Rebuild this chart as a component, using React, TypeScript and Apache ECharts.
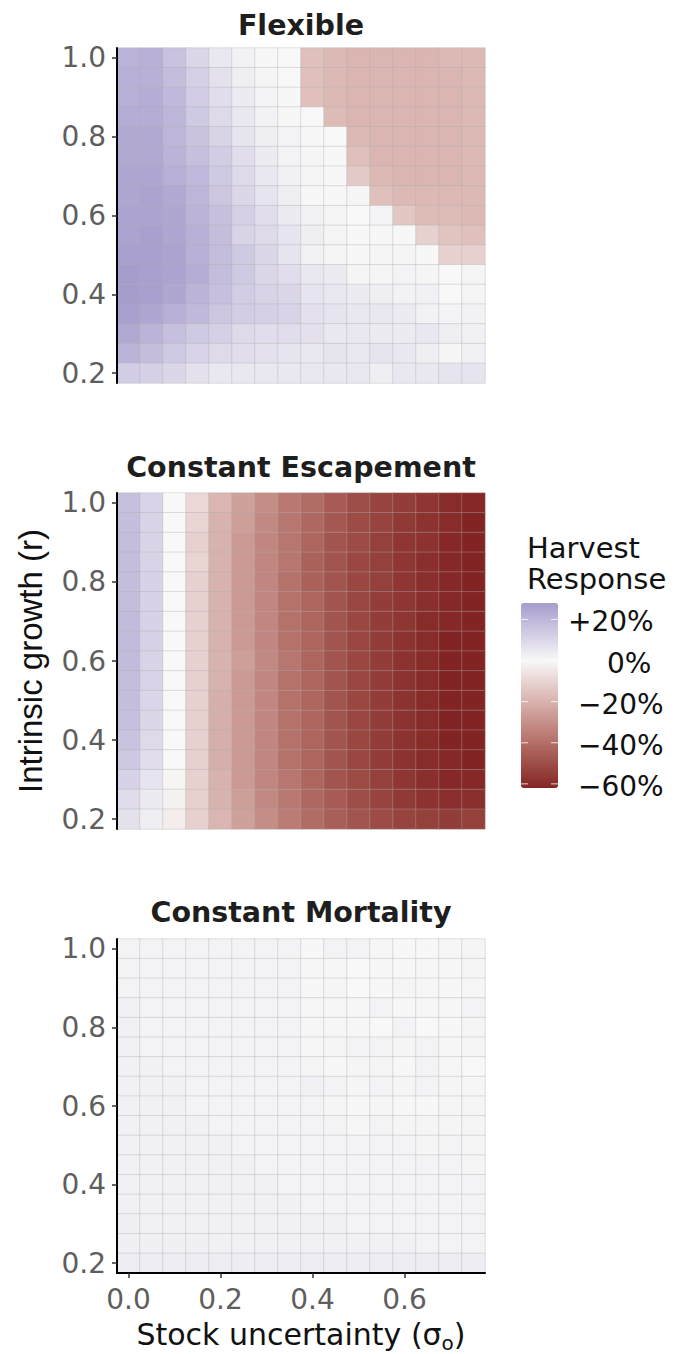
import React, { useEffect, useRef } from "react";
import * as echarts from "echarts";

// Stock uncertainty (sigma_o) categories, left to right
const sigmaLevels = [0, 0.05, 0.1, 0.15, 0.2, 0.25, 0.3, 0.35, 0.4, 0.45, 0.5, 0.55, 0.6, 0.65, 0.7, 0.75];
// Intrinsic growth (r) categories, bottom to top
const rLevels = [0.2, 0.25, 0.3, 0.35, 0.4, 0.45, 0.5, 0.55, 0.6, 0.65, 0.7, 0.75, 0.8, 0.85, 0.9, 0.95, 1.0];

const panelTitles = ["Flexible", "Constant Escapement", "Constant Mortality"];

// Harvest response (%), rows listed from r = 1.00 (top) down to r = 0.20 (bottom)
const flexibleRows = [
  [21, 22, 16, 10, 5, 2, 0.5, 0, -16, -18, -19, -19, -19, -19, -18, -18],
  [22, 22, 18, 12, 7, 3, 1, 0, -16, -18, -19, -19, -19, -19, -19, -18],
  [22, 23, 19, 13, 8, 4, 1.5, 0.5, -16, -18, -19, -19, -19, -19, -19, -18],
  [23, 23, 20, 14, 9, 5, 2, 0.5, 0, -17, -19, -19, -19, -19, -19, -18],
  [24, 24, 20, 16, 11, 6, 3, 1.5, 0.5, 0, -18, -19, -19, -19, -19, -18],
  [24, 24, 21, 17, 13, 8, 4, 1.5, 1, 0.5, -16, -19, -19, -19, -19, -18],
  [25, 25, 22, 19, 14, 9, 5, 2.5, 1, 0.5, -13, -18, -19, -19, -19, -18],
  [25, 26, 24, 20, 15, 10, 6, 3, 0.5, 0.5, 1, -16, -18, -18, -18, -18],
  [26, 26, 25, 21, 17, 12, 8, 4, 2, 1, 0, 1.5, -14, -17, -17, -18],
  [26, 27, 25, 22, 18, 11, 9, 6, 3, 1, 0.5, 0.5, 0.5, -11, -15, -16],
  [27, 27, 26, 22, 18, 14, 10, 6, 2, 1, 0.5, 1, 1, 0.5, -11, -11],
  [28, 27, 26, 23, 18, 14, 10, 8, 5, 4, 1, 1, 1.5, 1, 0, 1],
  [28, 27, 25, 21, 17, 13, 11, 10, 6, 5, 4, 3, 2, 2.5, 0, 1],
  [27, 25, 22, 19, 15, 13, 12, 11, 7, 6, 5, 5, 4, 2, 1.5, 2],
  [24, 21, 17, 14, 12, 9, 8, 8, 7, 5, 5, 4, 4, 5, 3, 2.5],
  [21, 18, 14, 11, 9, 8, 7, 6, 5, 6, 5, 6, 5, 3, 1, 2.5],
  [13, 12, 10, 7, 5, 5, 5, 5, 5, 5, 5, 3, 5, 5, 6, 6],
];

const escapementRows = [
  [17, 11, 0, -9, -19, -25, -31, -37, -41, -46, -50, -53, -55, -57, -60, -61],
  [17.5, 11, 0, -10, -20, -26, -32, -38, -42, -47, -51, -53, -56, -58, -60, -62],
  [18, 11, 0, -11, -20, -27, -33, -38, -43, -48, -51, -54, -57, -58, -61, -62],
  [18, 11, 0, -10, -20, -27, -33, -38, -44, -48, -52, -54, -57, -59, -61, -62],
  [18, 11.5, 0, -11, -20, -27, -33, -39, -44, -48, -52, -54, -57, -59, -61, -62],
  [18, 11.5, 0, -11, -20, -27, -33, -39, -43, -48, -52, -55, -57, -59, -61, -62],
  [18.5, 11.5, 0, -11, -20, -27, -33, -39, -43, -48, -52, -55, -57, -60, -61, -62],
  [18.5, 11.5, 0, -11, -20, -27, -33, -39, -43, -48, -52, -55, -58, -60, -62, -62],
  [18.5, 11, 0, -11, -20, -26, -32, -38, -43, -48, -52, -55, -58, -60, -62, -62],
  [18, 11, 0, -11, -20, -27, -33, -39, -43, -48, -52, -55, -58, -60, -62, -62],
  [17.5, 10.5, 0, -11, -21, -27, -33, -39, -43, -48, -52, -55, -58, -60, -62, -62],
  [17, 10, 0, -11, -21, -27, -33, -39, -43, -48, -52, -55, -58, -60, -62, -62],
  [16, 9, 0, -11, -21, -27, -33, -39, -43, -48, -52, -55, -58, -60, -62, -62],
  [14.5, 8, 0, -11, -21, -27, -33, -39, -43, -48, -52, -55, -58, -60, -61, -62],
  [11.5, 6, -1, -11, -20, -27, -33, -38, -43, -48, -51, -54, -57, -59, -61, -61],
  [8.5, 4, -2, -11, -20, -26, -32, -37, -42, -46, -50, -53, -56, -58, -59, -59],
  [7, 3, -3, -11, -19, -25, -31, -36, -41, -45, -48, -51, -53, -54, -55, -54],
];

const mortalityRows = [
  [1.8, 1.8, 1.8, 1.8, 1.8, 1.8, 1.5, 1.5, 0.3, 1.5, 1.5, 0.7, 0.3, 0.3, 0.7, 1],
  [1.8, 1.8, 1.8, 1.8, 1.8, 1.8, 1.5, 1.5, 0.7, 0.7, 0, 0.3, 0.3, 0.7, 0.3, 1],
  [1.8, 1.8, 1.8, 1.8, 1.8, 1.8, 1.5, 1.5, 0.3, 1, 0, 0.3, 1, 0.7, 0.3, 0.7],
  [2.2, 1.8, 1.8, 1.8, 1.8, 1.8, 1.5, 1.5, 0.7, 0.7, 0.7, 1.5, 0.3, 0.7, 0.7, 1.5],
  [2.2, 1.8, 1.8, 1.8, 1.8, 1.8, 1.5, 1.5, 0.7, 0.7, 0.7, 0, 1.5, 0, 0.3, 1],
  [2.2, 1.8, 1.8, 1.8, 1.8, 1.8, 1.5, 1.5, 0.7, 1, 1.5, 1.5, 1, 1.5, 0.7, 1],
  [2.2, 2.2, 1.8, 1.8, 1.8, 1.8, 1.5, 1.5, 1, 0.3, 1, 1, 0.3, 1.5, 0.7, 0],
  [2.2, 2.2, 2.2, 1.8, 1.8, 1.8, 1.8, 1.8, 2.2, 1.5, 1, 1.5, 1, 1.8, 1, 0.7],
  [2.2, 2.2, 2.2, 1.8, 1.8, 1.8, 1.8, 1.8, 1.5, 1, 0.3, 1, 0.7, 0.3, 1, 1],
  [2.2, 2.2, 2.2, 2.2, 1.8, 1.8, 1.8, 1.8, 1.5, 1.5, 0.7, 1.5, 1, 1, 1, 1],
  [2.2, 2.2, 2.2, 2.2, 2.2, 1.8, 1.8, 1.8, 1.8, 1.5, 1.5, 1.5, 1.5, 1, 1.5, 1],
  [2.5, 2.2, 2.2, 2.2, 2.2, 2.2, 1.8, 1.8, 1.8, 1.8, 1.5, 1.5, 1.5, 1.5, 1.5, 1],
  [2.5, 2.5, 2.2, 2.2, 2.2, 2.2, 2.2, 1.8, 1.8, 1.8, 1.8, 1.5, 1.5, 1.5, 1.5, 1.5],
  [2.5, 2.5, 2.5, 2.2, 2.2, 2.2, 2.2, 2.2, 1.8, 1.8, 1.8, 1.8, 1.8, 1.5, 1.5, 1.5],
  [2.8, 2.5, 2.5, 2.5, 2.5, 2.2, 2.2, 2.2, 2.2, 2.2, 1.8, 1.8, 1.8, 1.8, 1.5, 1.5],
  [2.8, 2.8, 2.8, 2.8, 2.5, 2.5, 2.5, 2.2, 2.2, 2.2, 2.2, 2.2, 2.2, 1.8, 1.8, 1.8],
  [3.5, 3.5, 3.5, 3.5, 3.5, 3.5, 3.5, 3.2, 3.2, 3.2, 3.5, 3.2, 3.2, 3.2, 3.2, 3.2],
];

const panelRows = [flexibleRows, escapementRows, mortalityRows];

// Colour scale limits and legend
const responseMin = -62;
const responseMax = 28;
const legendTicks = [20, 0, -20, -40, -60];
const legendTickLabels = ["+20%", "0%", "\u221220%", "\u221240%", "\u221260%"];

// ---- colour helpers (Lab interpolation, like a diverging gradient) ----
const LOW_COLOR = "#832424";
const MID_COLOR = "#f8f8f8";
const HIGH_COLOR = "#3a3a98";

function toLin(c: number) {
  c /= 255;
  return c <= 0.04045 ? c / 12.92 : Math.pow((c + 0.055) / 1.055, 2.4);
}
function fromLin(c: number) {
  const v = c <= 0.0031308 ? 12.92 * c : 1.055 * Math.pow(c, 1 / 2.4) - 0.055;
  return Math.max(0, Math.min(255, Math.round(v * 255)));
}
function hexToLab(hex: string) {
  const r = toLin(parseInt(hex.slice(1, 3), 16));
  const g = toLin(parseInt(hex.slice(3, 5), 16));
  const b = toLin(parseInt(hex.slice(5, 7), 16));
  const X = (0.4124564 * r + 0.3575761 * g + 0.1804375 * b) / 0.95047;
  const Y = 0.2126729 * r + 0.7151522 * g + 0.072175 * b;
  const Z = (0.0193339 * r + 0.119192 * g + 0.9503041 * b) / 1.08883;
  const f = (t: number) => (t > 0.008856 ? Math.cbrt(t) : 7.787 * t + 16 / 116);
  const fx = f(X), fy = f(Y), fz = f(Z);
  return [116 * fy - 16, 500 * (fx - fy), 200 * (fy - fz)];
}
function labToHex(L: number, a: number, b: number) {
  const fy = (L + 16) / 116;
  const fx = fy + a / 500;
  const fz = fy - b / 200;
  const inv = (f: number) => (f * f * f > 0.008856 ? f * f * f : (f - 16 / 116) / 7.787);
  const X = 0.95047 * inv(fx), Y = inv(fy), Z = 1.08883 * inv(fz);
  const r = 3.2404542 * X - 1.5371385 * Y - 0.4985314 * Z;
  const g = -0.969266 * X + 1.8760108 * Y + 0.041556 * Z;
  const bl = 0.0556434 * X - 0.2040259 * Y + 1.0572252 * Z;
  const h = (n: number) => fromLin(n).toString(16).padStart(2, "0");
  return "#" + h(r) + h(g) + h(bl);
}
const lowLab = hexToLab(LOW_COLOR);
const midLab = hexToLab(MID_COLOR);
const highLab = hexToLab(HIGH_COLOR);
const HALF_RANGE = Math.max(Math.abs(responseMin), Math.abs(responseMax));
function fillFor(v: number) {
  const t = Math.min(1, Math.abs(v) / HALF_RANGE);
  const end = v < 0 ? lowLab : highLab;
  return labToHex(
    midLab[0] + (end[0] - midLab[0]) * t,
    midLab[1] + (end[1] - midLab[1]) * t,
    midLab[2] + (end[2] - midLab[2]) * t
  );
}
const STOP_COUNT = 91;
const colorStops = Array.from({ length: STOP_COUNT }, (_, i) =>
  fillFor(responseMin + (i * (responseMax - responseMin)) / (STOP_COUNT - 1))
);

// ---- layout ----
const GRID_LEFT = 117;
const GRID_WIDTH = 368;
const gridTops = [48, 493, 939];
const gridHeights = [335, 336, 334];
const titleYs = [25, 467, 912];
const LEGEND_LEFT = 521;
const LEGEND_TOP = 603;
const LEGEND_W = 37;
const LEGEND_H = 185;
const legendLabelX = [568, 607, 578, 578, 578];

const TICK_FONT = "'DejaVu Sans', sans-serif";
const TICK_COLOR = "#5e5e5e";

export default function App() {
  const ref = useRef<HTMLDivElement>(null);

  useEffect(() => {
    if (!ref.current) return;
    const chart = echarts.init(ref.current, undefined, { renderer: "svg" });

    const sigmaCats = sigmaLevels.map((s) => String(s));
    const rCats = rLevels.map((r) => String(r));
    const every4 = (idx: number) => idx % 4 === 0;

    const grids = gridTops.map((top, i) => ({
      left: GRID_LEFT,
      top,
      width: GRID_WIDTH,
      height: gridHeights[i],
      outerBoundsMode: "none",
      containLabel: false,
    }));

    const xAxes = gridTops.map((_, i) => ({
      type: "category",
      gridIndex: i,
      data: sigmaCats,
      show: i === 2,
      z: 10,
      boundaryGap: true,
      axisLine: { show: true, lineStyle: { color: "#000", width: 2 } },
      axisTick: {
        show: true,
        alignWithLabel: true,
        interval: every4,
        length: 5,
        lineStyle: { color: "#333", width: 1.5 },
      },
      axisLabel: {
        show: true,
        interval: every4,
        formatter: (v: string) => Number(v).toFixed(1),
        color: TICK_COLOR,
        fontSize: 28,
        fontFamily: TICK_FONT,
        margin: 12,
      },
      splitLine: { show: false },
    }));

    const yAxes = gridTops.map((_, i) => ({
      type: "category",
      gridIndex: i,
      data: rCats,
      z: 10,
      boundaryGap: true,
      axisLine: { show: true, lineStyle: { color: "#000", width: 2 } },
      axisTick: {
        show: true,
        alignWithLabel: true,
        interval: every4,
        length: 5,
        lineStyle: { color: "#333", width: 1.5 },
      },
      axisLabel: {
        show: true,
        interval: every4,
        formatter: (v: string) => Number(v).toFixed(1),
        color: TICK_COLOR,
        fontSize: 28,
        fontFamily: TICK_FONT,
        margin: 11,
      },
      splitLine: { show: false },
    }));

    const series = panelRows.map((rows, i) => {
      const data: number[][] = [];
      rows.forEach((row, k) => {
        const yIdx = rLevels.length - 1 - k;
        row.forEach((v, xIdx) => data.push([xIdx, yIdx, v]));
      });
      return {
        type: "heatmap",
        name: panelTitles[i],
        xAxisIndex: i,
        yAxisIndex: i,
        data,
        z: 2,
        progressive: 0,
        itemStyle: { borderColor: "rgba(175,175,175,0.35)", borderWidth: 1 },
        emphasis: { disabled: true },
      };
    });

    const tickY = (v: number) =>
      LEGEND_TOP + ((responseMax - v) / (responseMax - responseMin)) * LEGEND_H;

    const graphic: any[] = [];
    panelTitles.forEach((t, i) => {
      graphic.push({
        type: "text",
        x: GRID_LEFT + GRID_WIDTH / 2,
        y: titleYs[i],
        style: {
          text: t,
          fontSize: 28.5,
          fontWeight: "bold",
          fontFamily: TICK_FONT,
          fill: "#1e1e1e",
          align: "center",
          verticalAlign: "middle",
          textAlign: "center",
          textVerticalAlign: "middle",
        },
      });
    });
    graphic.push({
      type: "text",
      x: 30,
      y: 661,
      rotation: Math.PI / 2,
      style: {
        text: "Intrinsic growth (r)",
        fontSize: 33,
        fontFamily: "'Liberation Sans', Arial, sans-serif",
        fill: "#111",
        align: "center",
        verticalAlign: "middle",
        textAlign: "center",
        textVerticalAlign: "middle",
      },
    });
    graphic.push({
      type: "text",
      x: GRID_LEFT + GRID_WIDTH / 2,
      y: 1334,
      style: {
        text: "{m|Stock uncertainty (\u03c3}{s|o}{m|)}",
        fontFamily: TICK_FONT,
        fill: "#111",
        align: "center",
        verticalAlign: "middle",
        textAlign: "center",
        textVerticalAlign: "middle",
        rich: {
          m: { fontSize: 30, lineHeight: 38, fontFamily: TICK_FONT, fill: "#111" },
          s: { fontSize: 20, lineHeight: 20, verticalAlign: "bottom", fontFamily: TICK_FONT, fill: "#111" },
        },
      },
    });
    ["Harvest", "Response"].forEach((t, i) => {
      graphic.push({
        type: "text",
        x: 527,
        y: 547.5 + i * 31.5,
        style: {
          text: t,
          fontSize: 29,
          fontFamily: TICK_FONT,
          fill: "#111",
          align: "left",
          verticalAlign: "middle",
          textAlign: "left",
          textVerticalAlign: "middle",
        },
      });
    });
    legendTicks.forEach((v, i) => {
      const y = tickY(v);
      graphic.push({
        type: "text",
        x: legendLabelX[i],
        y: y + 2.5,
        style: {
          text: legendTickLabels[i],
          fontSize: 28,
          fontFamily: TICK_FONT,
          fill: "#111",
          align: "left",
          verticalAlign: "middle",
          textAlign: "left",
          textVerticalAlign: "middle",
        },
      });
      graphic.push({
        type: "line",
        z: 100,
        shape: { x1: LEGEND_LEFT, y1: y, x2: LEGEND_LEFT + 7, y2: y },
        style: { stroke: "rgba(255,255,255,0.8)", lineWidth: 1 },
      });
      graphic.push({
        type: "line",
        z: 100,
        shape: { x1: LEGEND_LEFT + LEGEND_W - 7, y1: y, x2: LEGEND_LEFT + LEGEND_W, y2: y },
        style: { stroke: "rgba(255,255,255,0.8)", lineWidth: 1 },
      });
    });

    chart.setOption({
      animation: false,
      backgroundColor: "#ffffff",
      grid: grids,
      xAxis: xAxes,
      yAxis: yAxes,
      visualMap: {
        type: "continuous",
        min: responseMin,
        max: responseMax,
        dimension: 2,
        seriesIndex: [0, 1, 2],
        orient: "vertical",
        left: LEGEND_LEFT,
        top: LEGEND_TOP,
        itemWidth: LEGEND_W,
        itemHeight: LEGEND_H,
        padding: 0,
        calculable: false,
        hoverLink: false,
        text: null,
        inRange: { color: colorStops },
      },
      series,
      graphic,
    });

    return () => chart.dispose();
  }, []);

  return (
    <div
      ref={ref}
      style={{ position: "fixed", left: 0, top: 0, width: 690, height: 1354, background: "#fff" }}
    />
  );
}
